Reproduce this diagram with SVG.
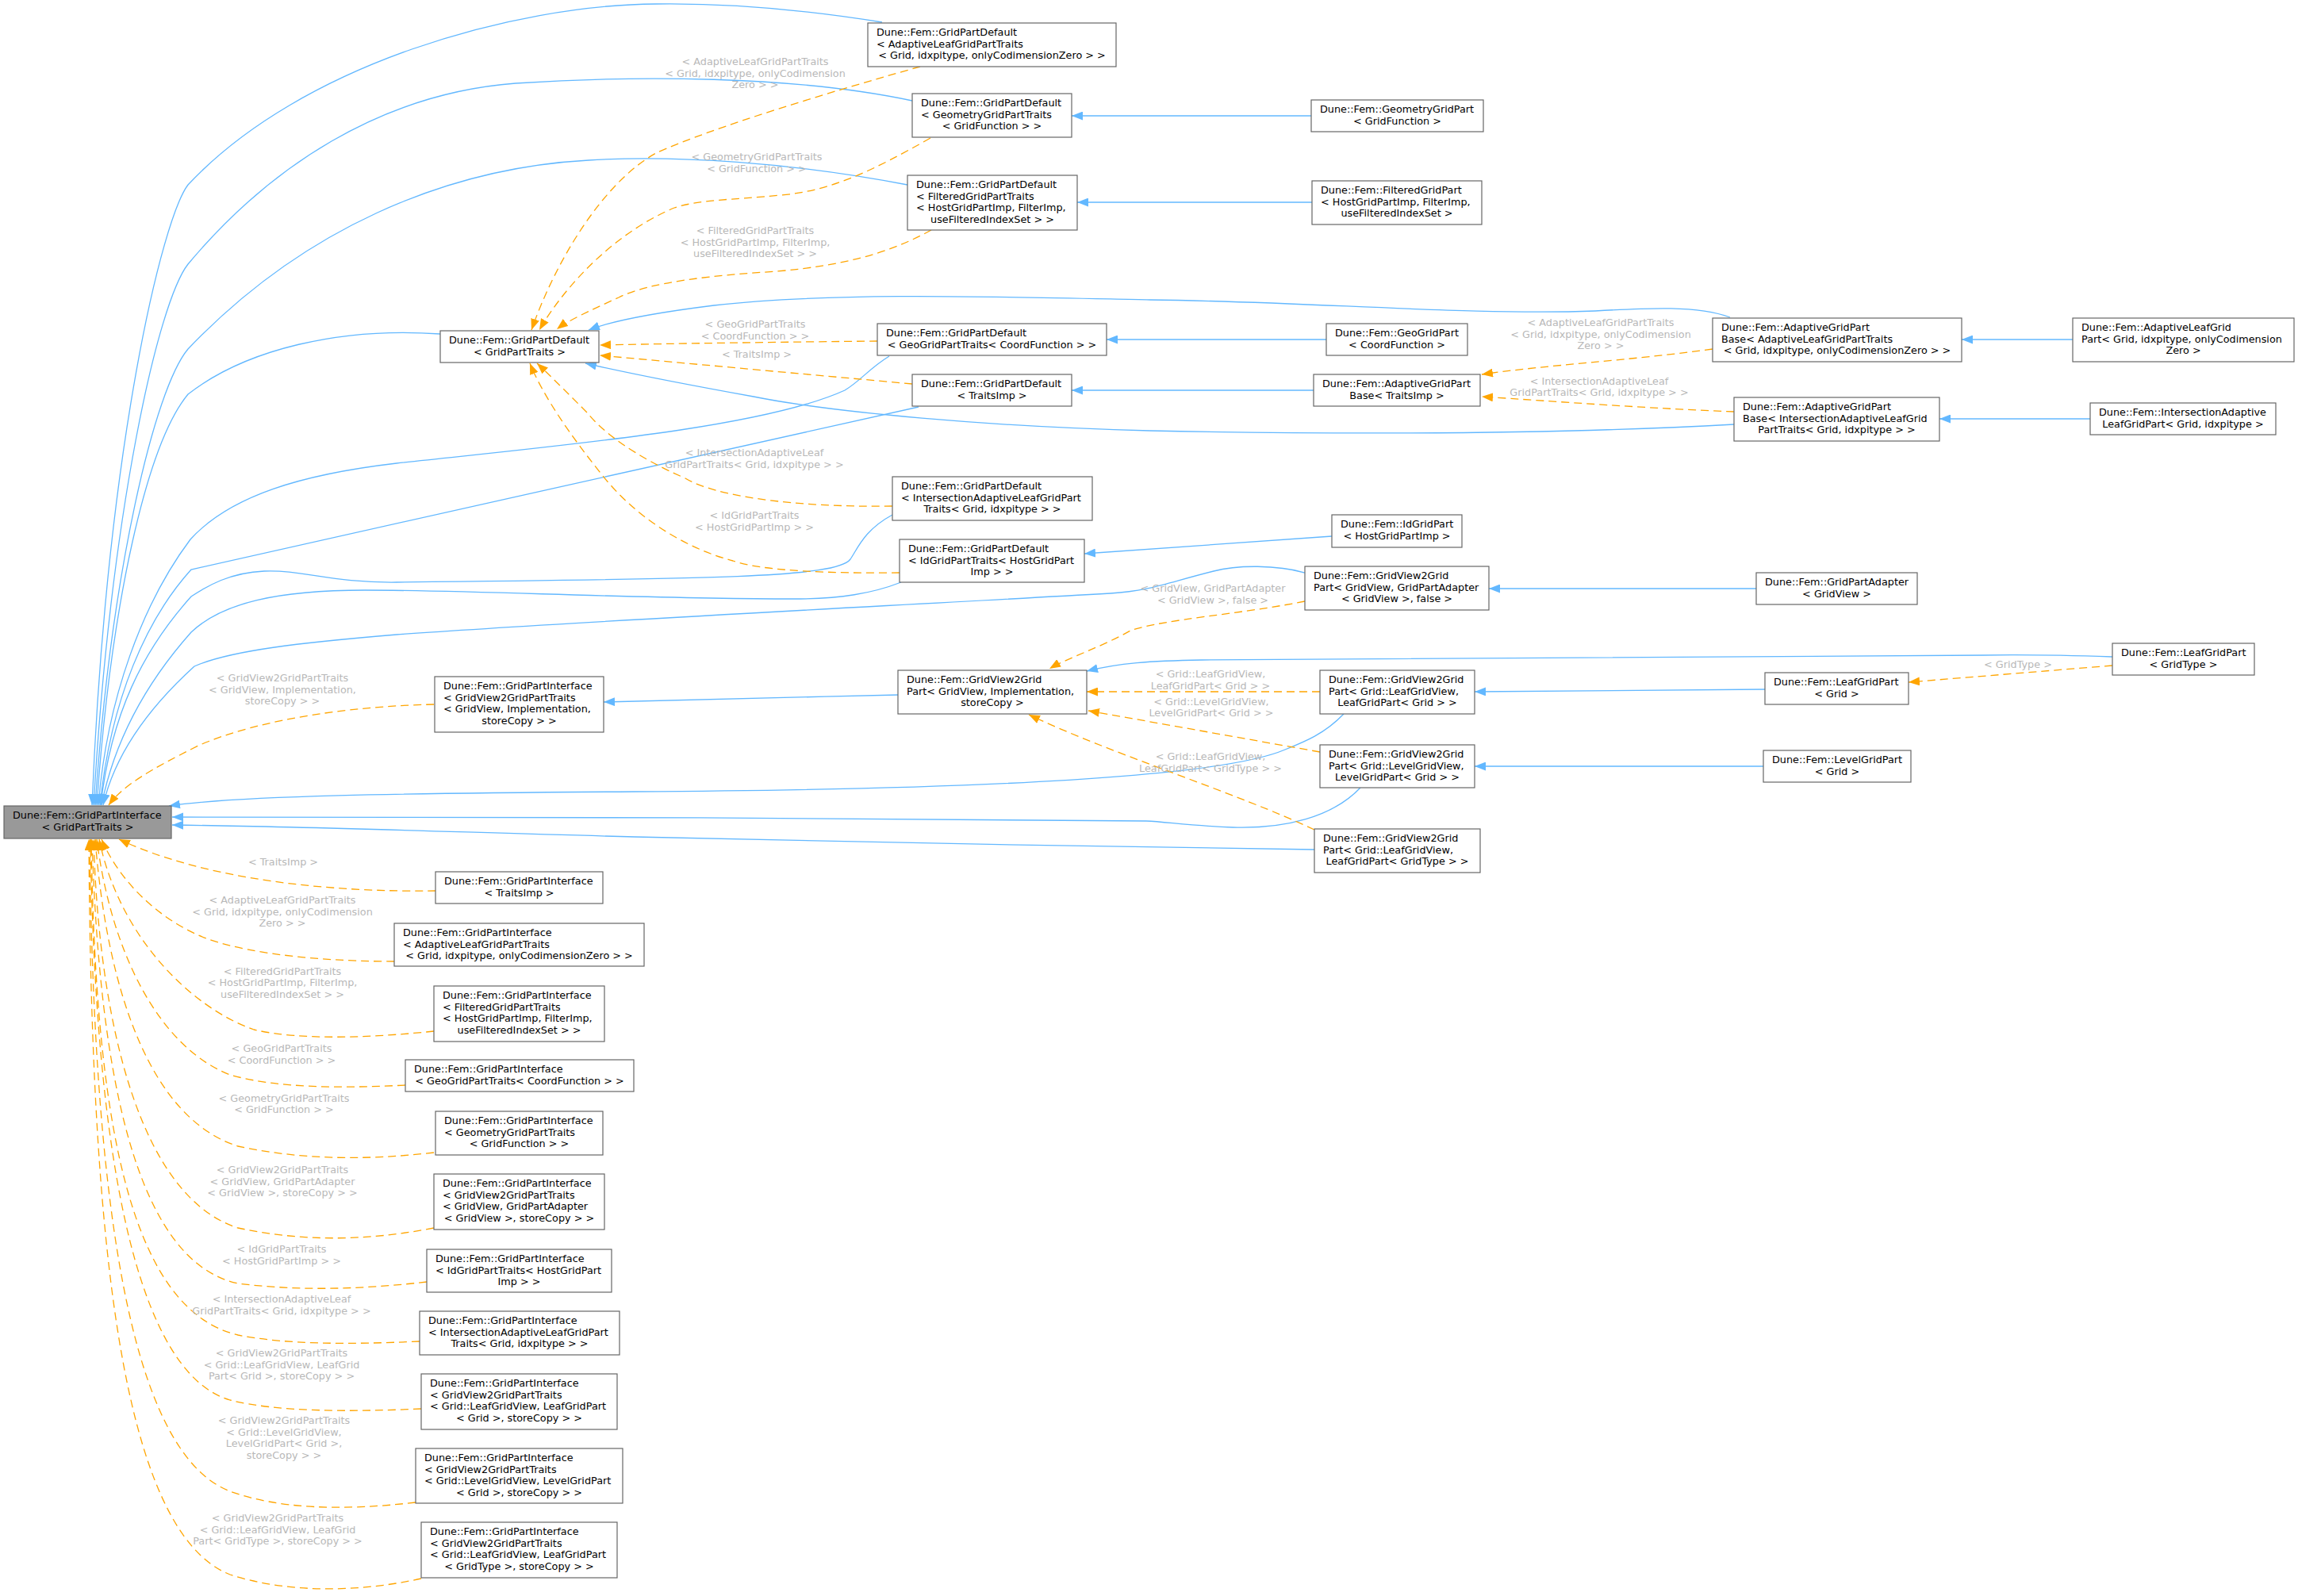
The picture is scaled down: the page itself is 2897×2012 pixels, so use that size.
<svg xmlns="http://www.w3.org/2000/svg" width="2897" height="2012" viewBox="0 0 2897 2012">
<style>
.node rect{fill:#ffffff;stroke:#666666;stroke-width:1.2}
.focus rect{fill:#999999}
text{font-family:"DejaVu Sans","Liberation Sans",sans-serif;font-size:12.8px;fill:#000000}
text.c{text-anchor:middle}
text.lbl{fill:#b8b8b8;text-anchor:middle}
.inh{fill:none;stroke:#63b8ff;stroke-width:1.3;marker-end:url(#ab)}
.tpl{fill:none;stroke:#ffa500;stroke-width:1.3;stroke-dasharray:10,6;marker-end:url(#ao)}
</style>
<defs>
<marker id="ab" viewBox="0 0 14 11" refX="14" refY="5.5" markerWidth="14" markerHeight="11" markerUnits="userSpaceOnUse" orient="auto"><path d="M0,0 L14,5.5 L0,11 z" fill="#63b8ff" stroke="none"/></marker>
<marker id="ao" viewBox="0 0 14 11" refX="14" refY="5.5" markerWidth="14" markerHeight="11" markerUnits="userSpaceOnUse" orient="auto"><path d="M0,0 L14,5.5 L0,11 z" fill="#ffa500" stroke="none"/></marker>
</defs>
<rect x="0" y="0" width="2897" height="2012" fill="#ffffff"/>
<g id="edges">
<path class="inh" d="M 1112 28 C 1000 10, 900 4, 827 5 C 650 6, 380 80, 237 233 C 205 275, 135 560, 116 1015"/>
<path class="inh" d="M 1150 127 C 1000 95, 800 95, 650 105 C 480 118, 340 210, 237 333 C 200 380, 140 640, 118 1015"/>
<path class="inh" d="M 1144 233 C 1000 205, 850 195, 742 202 C 560 212, 380 290, 237 440 C 195 490, 140 720, 120 1015"/>
<path class="inh" d="M 555 421 C 430 412, 310 440, 237 497 C 185 560, 140 760, 122 1015"/>
<path class="inh" d="M 1121 449 C 1095 465, 1085 480, 1065 492 C 960 540, 700 562, 500 584 C 380 598, 290 625, 240 680 C 180 760, 135 880, 124 1015"/>
<path class="inh" d="M 1158 513 C 900 570, 500 660, 241 718 C 185 780, 140 880, 126 1015"/>
<path class="inh" d="M 1125 649 C 1090 668, 1082 690, 1072 705 C 1055 728, 900 730, 500 734 C 420 735, 380 718, 333 720 C 290 722, 262 738, 241 752 C 180 820, 140 900, 127 1015"/>
<path class="inh" d="M 1136 734 C 1100 748, 1060 755, 1000 755 C 800 755, 600 744, 460 744 C 350 744, 280 760, 241 797 C 185 860, 145 930, 128 1015"/>
<path class="inh" d="M 1645 722 C 1610 712, 1560 712, 1530 720 C 1470 735, 1450 745, 1400 748 C 1100 765, 700 785, 500 800 C 380 810, 290 820, 245 840 C 190 890, 145 950, 130 1015"/>
<path class="inh" d="M 1694 900 C 1670 925, 1645 935, 1620 945 C 1550 975, 1300 995, 800 998 C 500 1000, 300 1003, 213 1016"/>
<path class="inh" d="M 1715 993 C 1680 1030, 1620 1045, 1554 1043 C 1500 1041, 1470 1036, 1445 1035 C 1100 1031, 500 1029, 217 1030"/>
<path class="inh" d="M 1657 1071 C 1400 1068, 1000 1060, 800 1055 C 600 1050, 400 1042, 217 1040"/>
<path class="inh" d="M 1653 146 L 1351 146"/>
<path class="inh" d="M 1654 255 L 1358 255"/>
<path class="inh" d="M 1672 428 L 1395 428"/>
<path class="inh" d="M 1656 492 L 1351 492"/>
<path class="inh" d="M 2613 428 L 2473 428"/>
<path class="inh" d="M 2635 528 L 2445 528"/>
<path class="inh" d="M 1679 676 L 1367 698"/>
<path class="inh" d="M 2214 742 L 1877 742"/>
<path class="inh" d="M 2225 869 L 1859 872"/>
<path class="inh" d="M 2223 966 L 1859 966"/>
<path class="inh" d="M 1132 876 C 1000 879, 850 883, 761 885"/>
<path class="inh" d="M 2663 828 C 2600 826, 2560 825, 2500 826 C 2100 828, 1700 830, 1515 832 C 1450 833, 1410 836, 1370 846"/>
<path class="inh" d="M 2181 400 C 2140 385, 2080 388, 2011 392 C 1850 398, 1650 380, 1450 378 C 1250 374, 1050 368, 900 385 C 820 395, 770 405, 742 416"/>
<path class="inh" d="M 2186 535 C 1950 548, 1700 548, 1450 543 C 1250 538, 1050 520, 950 500 C 850 482, 790 470, 738 458"/>
<path class="tpl" d="M 1160 84 C 1050 115, 900 160, 827 193 C 760 230, 700 330, 670 416"/>
<path class="tpl" d="M 1173 174 C 1100 215, 1050 240, 985 246 C 920 252, 880 252, 850 262 C 760 300, 700 380, 680 416"/>
<path class="tpl" d="M 1174 290 C 1120 320, 1060 335, 980 342 C 900 347, 820 355, 780 375 C 740 393, 715 405, 702 415"/>
<path class="tpl" d="M 1106 430 C 1000 431, 850 433, 756 435"/>
<path class="tpl" d="M 1150 484 L 756 448"/>
<path class="tpl" d="M 1125 638 C 1000 640, 900 625, 864 603 C 800 575, 760 545, 740 520 C 710 490, 690 470, 677 458"/>
<path class="tpl" d="M 1134 722 C 1050 723, 960 720, 924 707 C 860 690, 800 650, 760 600 C 720 550, 685 500, 668 458"/>
<path class="tpl" d="M 2159 440 C 2050 455, 1950 460, 1868 472"/>
<path class="tpl" d="M 2186 519 C 2080 515, 1960 506, 1868 500"/>
<path class="tpl" d="M 1645 758 C 1560 775, 1470 780, 1425 795 C 1390 815, 1345 830, 1323 843"/>
<path class="tpl" d="M 1664 872 L 1370 872"/>
<path class="tpl" d="M 1664 948 L 1372 896"/>
<path class="tpl" d="M 1657 1046 C 1560 1000, 1400 950, 1297 901"/>
<path class="tpl" d="M 2663 839 L 2406 860"/>
<path class="tpl" d="M 547 888 C 450 890, 330 905, 250 940 C 190 970, 155 990, 137 1015"/>
<path class="tpl" d="M 549 1123 C 420 1125, 260 1110, 150 1058"/>
<path class="tpl" d="M 497 1212 C 420 1212, 320 1205, 260 1183 C 200 1160, 150 1110, 128 1058"/>
<path class="tpl" d="M 547 1300 C 470 1308, 380 1312, 320 1298 C 240 1270, 150 1180, 125 1058"/>
<path class="tpl" d="M 511 1368 C 430 1372, 350 1372, 290 1355 C 200 1320, 140 1200, 122 1058"/>
<path class="tpl" d="M 547 1453 C 460 1463, 380 1462, 300 1445 C 190 1410, 135 1250, 120 1058"/>
<path class="tpl" d="M 547 1548 C 460 1565, 380 1565, 300 1548 C 180 1510, 125 1300, 118 1058"/>
<path class="tpl" d="M 538 1616 C 460 1625, 380 1628, 300 1618 C 170 1590, 125 1350, 116 1058"/>
<path class="tpl" d="M 529 1691 C 440 1695, 360 1695, 300 1683 C 160 1650, 120 1400, 115 1058"/>
<path class="tpl" d="M 531 1776 C 440 1780, 350 1780, 290 1765 C 170 1730, 120 1450, 114 1058"/>
<path class="tpl" d="M 524 1894 C 430 1905, 350 1902, 290 1880 C 160 1830, 118 1500, 113 1058"/>
<path class="tpl" d="M 531 1990 C 450 2008, 360 2008, 290 1985 C 150 1930, 115 1550, 112 1058"/>
<text class="lbl" x="952" y="82">&lt; AdaptiveLeafGridPartTraits<tspan x="952" dy="14.6">&lt; Grid, idxpitype, onlyCodimension</tspan><tspan x="952" dy="14.6">Zero &gt; &gt;</tspan></text>
<text class="lbl" x="954" y="202">&lt; GeometryGridPartTraits<tspan x="954" dy="14.6">&lt; GridFunction &gt; &gt;</tspan></text>
<text class="lbl" x="952" y="295">&lt; FilteredGridPartTraits<tspan x="952" dy="14.6">&lt; HostGridPartImp, FilterImp,</tspan><tspan x="952" dy="14.6">useFilteredIndexSet &gt; &gt;</tspan></text>
<text class="lbl" x="952" y="413">&lt; GeoGridPartTraits<tspan x="952" dy="14.6">&lt; CoordFunction &gt; &gt;</tspan></text>
<text class="lbl" x="954" y="451">&lt; TraitsImp &gt;</text>
<text class="lbl" x="951" y="575">&lt; IntersectionAdaptiveLeaf<tspan x="951" dy="14.6">GridPartTraits&lt; Grid, idxpitype &gt; &gt;</tspan></text>
<text class="lbl" x="951" y="654">&lt; IdGridPartTraits<tspan x="951" dy="14.6">&lt; HostGridPartImp &gt; &gt;</tspan></text>
<text class="lbl" x="2018" y="411">&lt; AdaptiveLeafGridPartTraits<tspan x="2018" dy="14.6">&lt; Grid, idxpitype, onlyCodimension</tspan><tspan x="2018" dy="14.6">Zero &gt; &gt;</tspan></text>
<text class="lbl" x="2016" y="484.5">&lt; IntersectionAdaptiveLeaf<tspan x="2016" dy="14.6">GridPartTraits&lt; Grid, idxpitype &gt; &gt;</tspan></text>
<text class="lbl" x="1529" y="746">&lt; GridView, GridPartAdapter<tspan x="1529" dy="14.6">&lt; GridView &gt;, false &gt;</tspan></text>
<text class="lbl" x="1526" y="854">&lt; Grid::LeafGridView,<tspan x="1526" dy="14.6">LeafGridPart&lt; Grid &gt; &gt;</tspan></text>
<text class="lbl" x="1527" y="888.5">&lt; Grid::LevelGridView,<tspan x="1527" dy="14.6">LevelGridPart&lt; Grid &gt; &gt;</tspan></text>
<text class="lbl" x="1526" y="958">&lt; Grid::LeafGridView,<tspan x="1526" dy="14.6">LeafGridPart&lt; GridType &gt; &gt;</tspan></text>
<text class="lbl" x="2544" y="842">&lt; GridType &gt;</text>
<text class="lbl" x="356" y="859">&lt; GridView2GridPartTraits<tspan x="356" dy="14.6">&lt; GridView, Implementation,</tspan><tspan x="356" dy="14.6">storeCopy &gt; &gt;</tspan></text>
<text class="lbl" x="357" y="1091">&lt; TraitsImp &gt;</text>
<text class="lbl" x="356" y="1139">&lt; AdaptiveLeafGridPartTraits<tspan x="356" dy="14.6">&lt; Grid, idxpitype, onlyCodimension</tspan><tspan x="356" dy="14.6">Zero &gt; &gt;</tspan></text>
<text class="lbl" x="356" y="1228.5">&lt; FilteredGridPartTraits<tspan x="356" dy="14.6">&lt; HostGridPartImp, FilterImp,</tspan><tspan x="356" dy="14.6">useFilteredIndexSet &gt; &gt;</tspan></text>
<text class="lbl" x="355" y="1326">&lt; GeoGridPartTraits<tspan x="355" dy="14.6">&lt; CoordFunction &gt; &gt;</tspan></text>
<text class="lbl" x="358" y="1388.5">&lt; GeometryGridPartTraits<tspan x="358" dy="14.6">&lt; GridFunction &gt; &gt;</tspan></text>
<text class="lbl" x="356" y="1479">&lt; GridView2GridPartTraits<tspan x="356" dy="14.6">&lt; GridView, GridPartAdapter</tspan><tspan x="356" dy="14.6">&lt; GridView &gt;, storeCopy &gt; &gt;</tspan></text>
<text class="lbl" x="355" y="1579">&lt; IdGridPartTraits<tspan x="355" dy="14.6">&lt; HostGridPartImp &gt; &gt;</tspan></text>
<text class="lbl" x="355" y="1642">&lt; IntersectionAdaptiveLeaf<tspan x="355" dy="14.6">GridPartTraits&lt; Grid, idxpitype &gt; &gt;</tspan></text>
<text class="lbl" x="355" y="1710">&lt; GridView2GridPartTraits<tspan x="355" dy="14.6">&lt; Grid::LeafGridView, LeafGrid</tspan><tspan x="355" dy="14.6">Part&lt; Grid &gt;, storeCopy &gt; &gt;</tspan></text>
<text class="lbl" x="358" y="1795">&lt; GridView2GridPartTraits<tspan x="358" dy="14.6">&lt; Grid::LevelGridView,</tspan><tspan x="358" dy="14.6">LevelGridPart&lt; Grid &gt;,</tspan><tspan x="358" dy="14.6">storeCopy &gt; &gt;</tspan></text>
<text class="lbl" x="350" y="1918">&lt; GridView2GridPartTraits<tspan x="350" dy="14.6">&lt; Grid::LeafGridView, LeafGrid</tspan><tspan x="350" dy="14.6">Part&lt; GridType &gt;, storeCopy &gt; &gt;</tspan></text>
</g>
<g id="n1" class="node focus"><rect x="5" y="1016" width="211" height="41"/><text x="16" y="1032">Dune::Fem::GridPartInterface</text><text class="c" x="110.5" y="1046.6">&lt; GridPartTraits &gt;</text></g>
<g id="n2" class="node"><rect x="555" y="417" width="200" height="40"/><text x="566" y="433">Dune::Fem::GridPartDefault</text><text class="c" x="655" y="447.6">&lt; GridPartTraits &gt;</text></g>
<g id="n3" class="node"><rect x="1094" y="29" width="313" height="55"/><text x="1105" y="45">Dune::Fem::GridPartDefault</text><text x="1105" y="59.6">&lt; AdaptiveLeafGridPartTraits</text><text class="c" x="1250.5" y="74.2">&lt; Grid, idxpitype, onlyCodimensionZero &gt; &gt;</text></g>
<g id="n4" class="node"><rect x="1150" y="118" width="201" height="55"/><text x="1161" y="134">Dune::Fem::GridPartDefault</text><text x="1161" y="148.6">&lt; GeometryGridPartTraits</text><text class="c" x="1250.5" y="163.2">&lt; GridFunction &gt; &gt;</text></g>
<g id="n5" class="node"><rect x="1144" y="221" width="214" height="69"/><text x="1155" y="237">Dune::Fem::GridPartDefault</text><text x="1155" y="251.6">&lt; FilteredGridPartTraits</text><text x="1155" y="266.2">&lt; HostGridPartImp, FilterImp,</text><text class="c" x="1251" y="280.8">useFilteredIndexSet &gt; &gt;</text></g>
<g id="n6" class="node"><rect x="1106" y="408" width="289" height="40"/><text x="1117" y="424">Dune::Fem::GridPartDefault</text><text class="c" x="1250.5" y="438.6">&lt; GeoGridPartTraits&lt; CoordFunction &gt; &gt;</text></g>
<g id="n7" class="node"><rect x="1150" y="472" width="201" height="40"/><text x="1161" y="488">Dune::Fem::GridPartDefault</text><text class="c" x="1250.5" y="502.6">&lt; TraitsImp &gt;</text></g>
<g id="n8" class="node"><rect x="1125" y="601" width="252" height="55"/><text x="1136" y="617">Dune::Fem::GridPartDefault</text><text x="1136" y="631.6">&lt; IntersectionAdaptiveLeafGridPart</text><text class="c" x="1251" y="646.2">Traits&lt; Grid, idxpitype &gt; &gt;</text></g>
<g id="n9" class="node"><rect x="1134" y="680" width="233" height="54"/><text x="1145" y="696">Dune::Fem::GridPartDefault</text><text x="1145" y="710.6">&lt; IdGridPartTraits&lt; HostGridPart</text><text class="c" x="1250.5" y="725.2">Imp &gt; &gt;</text></g>
<g id="n10" class="node"><rect x="1653" y="126" width="217" height="40"/><text x="1664" y="142">Dune::Fem::GeometryGridPart</text><text class="c" x="1761.5" y="156.6">&lt; GridFunction &gt;</text></g>
<g id="n11" class="node"><rect x="1654" y="228" width="214" height="55"/><text x="1665" y="244">Dune::Fem::FilteredGridPart</text><text x="1665" y="258.6">&lt; HostGridPartImp, FilterImp,</text><text class="c" x="1761" y="273.2">useFilteredIndexSet &gt;</text></g>
<g id="n12" class="node"><rect x="1672" y="408" width="178" height="40"/><text x="1683" y="424">Dune::Fem::GeoGridPart</text><text class="c" x="1761" y="438.6">&lt; CoordFunction &gt;</text></g>
<g id="n13" class="node"><rect x="2159" y="401" width="314" height="55"/><text x="2170" y="417">Dune::Fem::AdaptiveGridPart</text><text x="2170" y="431.6">Base&lt; AdaptiveLeafGridPartTraits</text><text class="c" x="2316" y="446.2">&lt; Grid, idxpitype, onlyCodimensionZero &gt; &gt;</text></g>
<g id="n14" class="node"><rect x="2613" y="401" width="279" height="55"/><text x="2624" y="417">Dune::Fem::AdaptiveLeafGrid</text><text x="2624" y="431.6">Part&lt; Grid, idxpitype, onlyCodimension</text><text class="c" x="2752.5" y="446.2">Zero &gt;</text></g>
<g id="n15" class="node"><rect x="1656" y="472" width="210" height="40"/><text x="1667" y="488">Dune::Fem::AdaptiveGridPart</text><text class="c" x="1761" y="502.6">Base&lt; TraitsImp &gt;</text></g>
<g id="n16" class="node"><rect x="2186" y="501" width="259" height="55"/><text x="2197" y="517">Dune::Fem::AdaptiveGridPart</text><text x="2197" y="531.6">Base&lt; IntersectionAdaptiveLeafGrid</text><text class="c" x="2315.5" y="546.2">PartTraits&lt; Grid, idxpitype &gt; &gt;</text></g>
<g id="n17" class="node"><rect x="2635" y="508" width="234" height="40"/><text x="2646" y="524">Dune::Fem::IntersectionAdaptive</text><text class="c" x="2752" y="538.6">LeafGridPart&lt; Grid, idxpitype &gt;</text></g>
<g id="n18" class="node"><rect x="1679" y="649" width="164" height="41"/><text x="1690" y="665">Dune::Fem::IdGridPart</text><text class="c" x="1761" y="679.6">&lt; HostGridPartImp &gt;</text></g>
<g id="n19" class="node"><rect x="1645" y="714" width="232" height="55"/><text x="1656" y="730">Dune::Fem::GridView2Grid</text><text x="1656" y="744.6">Part&lt; GridView, GridPartAdapter</text><text class="c" x="1761" y="759.2">&lt; GridView &gt;, false &gt;</text></g>
<g id="n20" class="node"><rect x="2214" y="722" width="203" height="40"/><text x="2225" y="738">Dune::Fem::GridPartAdapter</text><text class="c" x="2315.5" y="752.6">&lt; GridView &gt;</text></g>
<g id="n21" class="node"><rect x="1132" y="845" width="238" height="55"/><text x="1143" y="861">Dune::Fem::GridView2Grid</text><text x="1143" y="875.6">Part&lt; GridView, Implementation,</text><text class="c" x="1251" y="890.2">storeCopy &gt;</text></g>
<g id="n22" class="node"><rect x="1664" y="845" width="195" height="55"/><text x="1675" y="861">Dune::Fem::GridView2Grid</text><text x="1675" y="875.6">Part&lt; Grid::LeafGridView,</text><text class="c" x="1761.5" y="890.2">LeafGridPart&lt; Grid &gt; &gt;</text></g>
<g id="n23" class="node"><rect x="1664" y="939" width="195" height="54"/><text x="1675" y="955">Dune::Fem::GridView2Grid</text><text x="1675" y="969.6">Part&lt; Grid::LevelGridView,</text><text class="c" x="1761.5" y="984.2">LevelGridPart&lt; Grid &gt; &gt;</text></g>
<g id="n24" class="node"><rect x="1657" y="1045" width="209" height="55"/><text x="1668" y="1061">Dune::Fem::GridView2Grid</text><text x="1668" y="1075.6">Part&lt; Grid::LeafGridView,</text><text class="c" x="1761.5" y="1090.2">LeafGridPart&lt; GridType &gt; &gt;</text></g>
<g id="n25" class="node"><rect x="2663" y="811" width="179" height="40"/><text x="2674" y="827">Dune::Fem::LeafGridPart</text><text class="c" x="2752.5" y="841.6">&lt; GridType &gt;</text></g>
<g id="n26" class="node"><rect x="2225" y="848" width="181" height="40"/><text x="2236" y="864">Dune::Fem::LeafGridPart</text><text class="c" x="2315.5" y="878.6">&lt; Grid &gt;</text></g>
<g id="n27" class="node"><rect x="2223" y="946" width="186" height="40"/><text x="2234" y="962">Dune::Fem::LevelGridPart</text><text class="c" x="2316" y="976.6">&lt; Grid &gt;</text></g>
<g id="n28" class="node"><rect x="548" y="853" width="213" height="70"/><text x="559" y="869">Dune::Fem::GridPartInterface</text><text x="559" y="883.6">&lt; GridView2GridPartTraits</text><text x="559" y="898.2">&lt; GridView, Implementation,</text><text class="c" x="654.5" y="912.8">storeCopy &gt; &gt;</text></g>
<g id="n29" class="node"><rect x="549" y="1099" width="211" height="40"/><text x="560" y="1115">Dune::Fem::GridPartInterface</text><text class="c" x="654.5" y="1129.6">&lt; TraitsImp &gt;</text></g>
<g id="n30" class="node"><rect x="497" y="1164" width="315" height="54"/><text x="508" y="1180">Dune::Fem::GridPartInterface</text><text x="508" y="1194.6">&lt; AdaptiveLeafGridPartTraits</text><text class="c" x="654.5" y="1209.2">&lt; Grid, idxpitype, onlyCodimensionZero &gt; &gt;</text></g>
<g id="n31" class="node"><rect x="547" y="1243" width="215" height="70"/><text x="558" y="1259">Dune::Fem::GridPartInterface</text><text x="558" y="1273.6">&lt; FilteredGridPartTraits</text><text x="558" y="1288.2">&lt; HostGridPartImp, FilterImp,</text><text class="c" x="654.5" y="1302.8">useFilteredIndexSet &gt; &gt;</text></g>
<g id="n32" class="node"><rect x="511" y="1336" width="288" height="40"/><text x="522" y="1352">Dune::Fem::GridPartInterface</text><text class="c" x="655" y="1366.6">&lt; GeoGridPartTraits&lt; CoordFunction &gt; &gt;</text></g>
<g id="n33" class="node"><rect x="549" y="1401" width="211" height="55"/><text x="560" y="1417">Dune::Fem::GridPartInterface</text><text x="560" y="1431.6">&lt; GeometryGridPartTraits</text><text class="c" x="654.5" y="1446.2">&lt; GridFunction &gt; &gt;</text></g>
<g id="n34" class="node"><rect x="547" y="1480" width="215" height="70"/><text x="558" y="1496">Dune::Fem::GridPartInterface</text><text x="558" y="1510.6">&lt; GridView2GridPartTraits</text><text x="558" y="1525.2">&lt; GridView, GridPartAdapter</text><text class="c" x="654.5" y="1539.8">&lt; GridView &gt;, storeCopy &gt; &gt;</text></g>
<g id="n35" class="node"><rect x="538" y="1575" width="233" height="54"/><text x="549" y="1591">Dune::Fem::GridPartInterface</text><text x="549" y="1605.6">&lt; IdGridPartTraits&lt; HostGridPart</text><text class="c" x="654.5" y="1620.2">Imp &gt; &gt;</text></g>
<g id="n36" class="node"><rect x="529" y="1653" width="252" height="55"/><text x="540" y="1669">Dune::Fem::GridPartInterface</text><text x="540" y="1683.6">&lt; IntersectionAdaptiveLeafGridPart</text><text class="c" x="655" y="1698.2">Traits&lt; Grid, idxpitype &gt; &gt;</text></g>
<g id="n37" class="node"><rect x="531" y="1732" width="247" height="70"/><text x="542" y="1748">Dune::Fem::GridPartInterface</text><text x="542" y="1762.6">&lt; GridView2GridPartTraits</text><text x="542" y="1777.2">&lt; Grid::LeafGridView, LeafGridPart</text><text class="c" x="654.5" y="1791.8">&lt; Grid &gt;, storeCopy &gt; &gt;</text></g>
<g id="n38" class="node"><rect x="524" y="1826" width="261" height="69"/><text x="535" y="1842">Dune::Fem::GridPartInterface</text><text x="535" y="1856.6">&lt; GridView2GridPartTraits</text><text x="535" y="1871.2">&lt; Grid::LevelGridView, LevelGridPart</text><text class="c" x="654.5" y="1885.8">&lt; Grid &gt;, storeCopy &gt; &gt;</text></g>
<g id="n39" class="node"><rect x="531" y="1919" width="247" height="70"/><text x="542" y="1935">Dune::Fem::GridPartInterface</text><text x="542" y="1949.6">&lt; GridView2GridPartTraits</text><text x="542" y="1964.2">&lt; Grid::LeafGridView, LeafGridPart</text><text class="c" x="654.5" y="1978.8">&lt; GridType &gt;, storeCopy &gt; &gt;</text></g>
</svg>
